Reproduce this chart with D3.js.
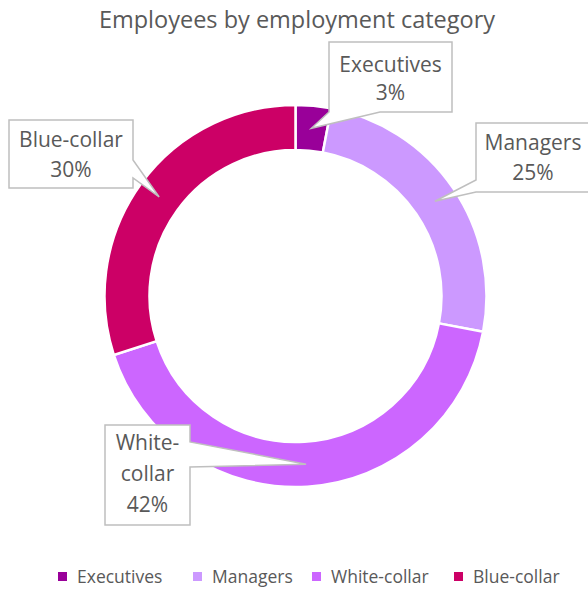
<!DOCTYPE html>
<html>
<head>
<meta charset="utf-8">
<script src="https://cdn.jsdelivr.net/npm/d3@7"></script>
<style>
  html, body { margin: 0; padding: 0; background: #fff; }
  svg { display: block; font-family: "Open Sans", Lato, sans-serif; }
</style>
</head>
<body>
<svg id="chart" width="588" height="592"></svg>
<script>
// Employment categories and their share of employees (%)
const categories = ["Executives", "Managers", "White-collar", "Blue-collar"];
const shares = [3, 25, 42, 30];
const colors = ["#990099", "#CC99FF", "#CC66FF", "#CC0066"];

// Label lines shown in each callout
const labelLines = [
  ["Executives", "3%"],
  ["Managers", "25%"],
  ["White-", "collar", "42%"],
  ["Blue-collar", "30%"]
];

// Callout boxes: [x0, y0, x1, y1], pointer side and where the pointer leaves that side
const callouts = [
  { box: [329, 42, 452, 112], side: "bottom", from: 329, to: 380, firstLine: 72, lineGap: 28 },
  { box: [476, 123, 592, 192], side: "left", from: 180, to: 192, firstLine: 150, lineGap: 30 },
  { box: [105, 425, 190, 525], side: "right", from: 442, to: 467, firstLine: 450, lineGap: 31 },
  { box: [9, 120, 133, 188], side: "right", from: 160, to: 178, firstLine: 147, lineGap: 30 }
];

const svg = d3.select("#chart");
const cx = 295.5, cy = 296;
const outerR = 191, innerR = 146;
const textColor = "#595959";

// Title
svg.append("text")
  .attr("x", 297).attr("y", 28)
  .attr("text-anchor", "middle")
  .attr("fill", textColor)
  .attr("font-size", 23.5)
  .text("Employees by employment category");

const pie = d3.pie().value(d => d).sort(null);
const arcs = pie(shares);
const arc = d3.arc().innerRadius(innerR).outerRadius(outerR);

const g = svg.append("g").attr("transform", `translate(${cx},${cy})`);
g.selectAll("path.slice")
  .data(arcs)
  .join("path")
  .attr("class", "slice")
  .attr("d", arc)
  .attr("fill", (d, i) => colors[i])
  .attr("stroke", "#fff")
  .attr("stroke-width", 2.5);

// Callouts pointing to each slice's centroid
arcs.forEach((d, i) => {
  const c = callouts[i];
  const [x0, y0, x1, y1] = c.box;
  const [tx, ty] = arc.centroid(d);
  const tip = [cx + tx, cy + ty];
  let pts;
  if (c.side === "bottom") {
    pts = [[x0, y0], [x1, y0], [x1, y1], [c.to, y1], tip, [c.from, y1], [x0, y1]];
  } else if (c.side === "left") {
    pts = [[x0, y0], [x1, y0], [x1, y1], [x0, y1], [x0, c.to], tip, [x0, c.from]];
  } else {
    pts = [[x0, y0], [x1, y0], [x1, c.from], tip, [x1, c.to], [x1, y1], [x0, y1]];
  }
  svg.append("path")
    .attr("d", d3.line()(pts) + "Z")
    .attr("fill", "#fff")
    .attr("stroke", "#BFBFBF")
    .attr("stroke-width", 1.5)
    .attr("stroke-linejoin", "miter");

  const midX = i === 1 ? 533 : (x0 + x1) / 2;
  const t = svg.append("text")
    .attr("text-anchor", "middle")
    .attr("fill", textColor)
    .attr("font-size", 21);
  labelLines[i].forEach((line, k) => {
    t.append("tspan")
      .attr("x", midX)
      .attr("y", c.firstLine + k * c.lineGap)
      .text(line);
  });
});

// Legend
const legendX = [58, 193, 312, 454];
const legend = svg.append("g");
categories.forEach((name, i) => {
  legend.append("rect")
    .attr("x", legendX[i]).attr("y", 572)
    .attr("width", 9).attr("height", 9)
    .attr("fill", colors[i]);
  legend.append("text")
    .attr("x", legendX[i] + 19).attr("y", 582.5)
    .attr("fill", textColor)
    .attr("font-size", 17.5)
    .text(name);
});
</script>
</body>
</html>
